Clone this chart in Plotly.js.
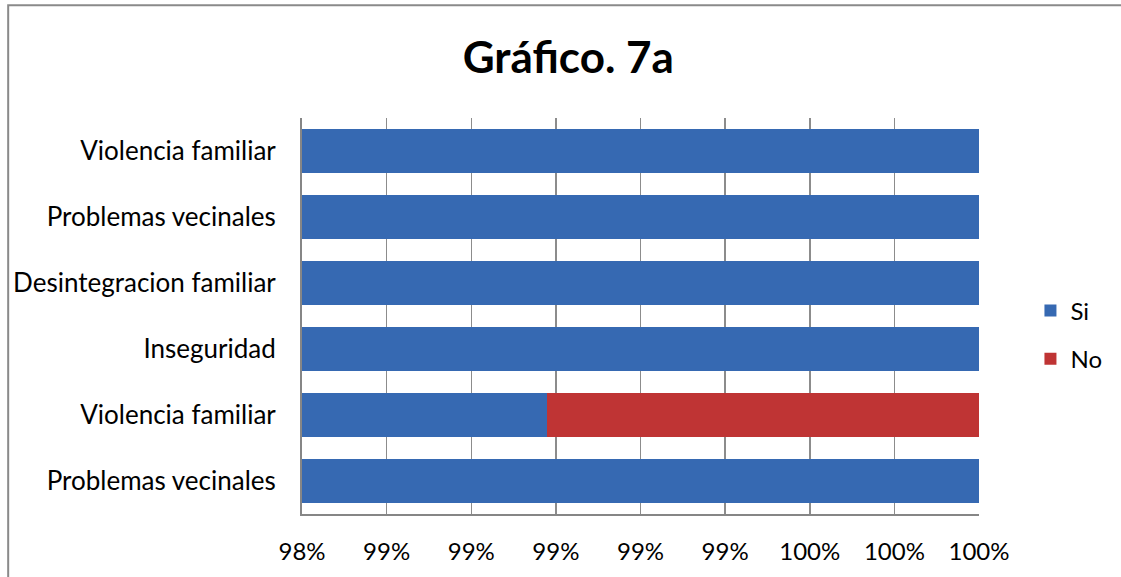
<!DOCTYPE html>
<html>
<head>
<meta charset="utf-8">
<script src="https://cdn.plot.ly/plotly-3.0.1.min.js"></script>
<style>html,body{margin:0;padding:0;background:#fff;}#chart{width:1121px;height:577px;}</style>
</head>
<body>
<div id="chart"></div>
<script>
// Categories from bottom to top
const categories = ["Problemas vecinales", "Violencia familiar", "Inseguridad", "Desintegracion familiar", "Problemas vecinales", "Violencia familiar"];
const siValues = [1.0, 0.9898, 1.0, 1.0, 1.0, 1.0];
const noValues = [0.0, 0.0102, 0.0, 0.0, 0.0, 0.0];
const seriesNames = ["Si", "No"];
const xTickVals = [0.984, 0.986, 0.988, 0.990, 0.992, 0.994, 0.996, 0.998, 1.000];

const positions = categories.map((c, i) => i);
const FONT = "Lato, 'Open Sans', sans-serif";

const traces = [
  {
    type: "bar", orientation: "h", name: seriesNames[0], legendgroup: "g1",
    x: siValues, y: positions,
    marker: {color: "#3669b2", line: {width: 0}},
    hoverinfo: "x+name"
  },
  {
    type: "bar", orientation: "h", name: seriesNames[1], legendgroup: "g2",
    x: noValues, y: positions,
    marker: {color: "#bf3434", line: {width: 0}},
    hoverinfo: "x+name"
  }
];

const layout = {
  width: 1121, height: 577,
  margin: {l: 302, r: 142, t: 118, b: 63, pad: 0, autoexpand: false},
  paper_bgcolor: "#ffffff", plot_bgcolor: "#ffffff",
  font: {family: FONT, size: 24, color: "#000000"},
  title: {
    text: "<b>Gráfico. 7a</b>",
    font: {family: FONT, size: 44, color: "#000000"},
    xref: "container", x: 0.507, xanchor: "center",
    yref: "container", y: 0.901, yanchor: "middle"
  },
  barmode: "stack",
  bargap: 0.333,
  xaxis: {
    range: [0.984, 1.0],
    tickvals: xTickVals,
    tickformat: ".0%",
    showgrid: true, gridcolor: "#8c8c8c", gridwidth: 1.5,
    showline: true, linecolor: "#868686", linewidth: 2,
    zeroline: false, ticks: "", ticklabelstandoff: 15,
    tickfont: {family: FONT, size: 24, color: "#000"},
    fixedrange: true
  },
  yaxis: {
    range: [-0.5, 5.5],
    tickvals: positions,
    ticktext: categories,
    showgrid: false,
    showline: true, linecolor: "#868686", linewidth: 2,
    zeroline: false, ticks: "", ticklabelstandoff: 19,
    tickfont: {family: FONT, size: 26, color: "#000"},
    fixedrange: true
  },
  legend: {
    x: 1.076, xanchor: "left", y: 0.452, yanchor: "middle",
    traceorder: "grouped", tracegroupgap: 14,
    font: {family: FONT, size: 24, color: "#000"},
    itemwidth: 30, bgcolor: "rgba(0,0,0,0)"
  },
  shapes: [
    {type: "rect", xref: "paper", yref: "paper", x0: -0.434, x1: 1.5, y0: -0.5, y1: 1.285,
     line: {color: "#8a8a8a", width: 2}, fillcolor: "rgba(0,0,0,0)", layer: "below"}
  ]
};

Plotly.newPlot("chart", traces, layout, {displayModeBar: false, staticPlot: true});
</script>
</body>
</html>
